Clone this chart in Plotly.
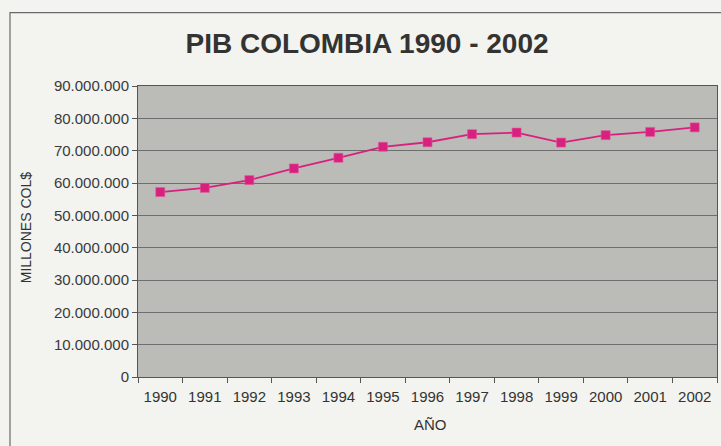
import plotly.graph_objects as go

years = ["1990", "1991", "1992", "1993", "1994", "1995", "1996",
         "1997", "1998", "1999", "2000", "2001", "2002"]
pib = [57200000, 58500000, 60900000, 64500000, 67800000, 71200000, 72600000,
       75100000, 75600000, 72500000, 74800000, 75800000, 77200000]
y_ticks = [0, 10000000, 20000000, 30000000, 40000000, 50000000,
           60000000, 70000000, 80000000, 90000000]

W, H = 721, 446
L, R, T, B = 138, 4, 85.5, 69
pw = W - L - R
ph = H - T - B

def px_x(p):
    return (p - L) / pw

def px_y(p):
    return (H - B - p) / ph

fig = go.Figure()
fig.add_trace(go.Scatter(
    x=years, y=pib, mode="lines+markers",
    line=dict(color="#d8207f", width=1.8),
    marker=dict(symbol="square", size=9, color="#d8207f",
                line=dict(color="#e4579a", width=0.6)),
    showlegend=False,
))

fig.update_layout(
    template="none",
    width=W, height=H,
    margin=dict(l=L, r=R, t=T, b=B, autoexpand=False),
    paper_bgcolor="#f3f3ef",
    plot_bgcolor="#bbbbb8",
    separators=",.",
    font=dict(family="Liberation Sans, Arial", color="#333333"),
    title=dict(text="<b>PIB COLOMBIA 1990 - 2002</b>",
               x=367 / W, xanchor="center", y=1 - 43 / H, yanchor="middle",
               font=dict(size=28, color="#333333",
                         family="Liberation Sans, Arial")),
    xaxis=dict(type="category", range=[-0.5, 12.5], showgrid=False,
               automargin=False,
               ticks="outside", tickson="boundaries", ticklen=5,
               ticklabelstandoff=6,
               tickcolor="#555555", linecolor="#555555", showline=True,
               mirror=True, tickfont=dict(size=15, color="#333333"),
               fixedrange=True),
    yaxis=dict(range=[0, 90000000], tickvals=y_ticks, tickformat=",.0f",
               automargin=False,
               showgrid=True, gridcolor="#6e6e6e", gridwidth=1,
               ticks="outside", ticklen=5, tickcolor="#555555",
               linecolor="#555555", showline=True, mirror=True,
               zeroline=False, tickfont=dict(size=15, color="#3a3a3a"),
               fixedrange=True),
    shapes=[dict(type="rect", xref="paper", yref="paper",
                 x0=px_x(10), x1=px_x(740), y0=px_y(470), y1=px_y(12),
                 line=dict(color="#6a6a6a", width=1.2),
                 fillcolor="rgba(0,0,0,0)", layer="below")],
    annotations=[
        dict(text="MILLONES COL$", xref="paper", yref="paper",
             x=px_x(26), y=px_y(228), textangle=-90, showarrow=False,
             xanchor="center", yanchor="middle",
             font=dict(size=14, color="#333333")),
        dict(text="AÑO", xref="paper", yref="paper",
             x=px_x(430), y=px_y(425), showarrow=False,
             xanchor="center", yanchor="middle",
             font=dict(size=15, color="#333333")),
    ],
)

fig.write_html("out.html", config={"displayModeBar": False},
               post_script="document.body.style.margin='0';document.body.style.background='#f3f3ef';")
